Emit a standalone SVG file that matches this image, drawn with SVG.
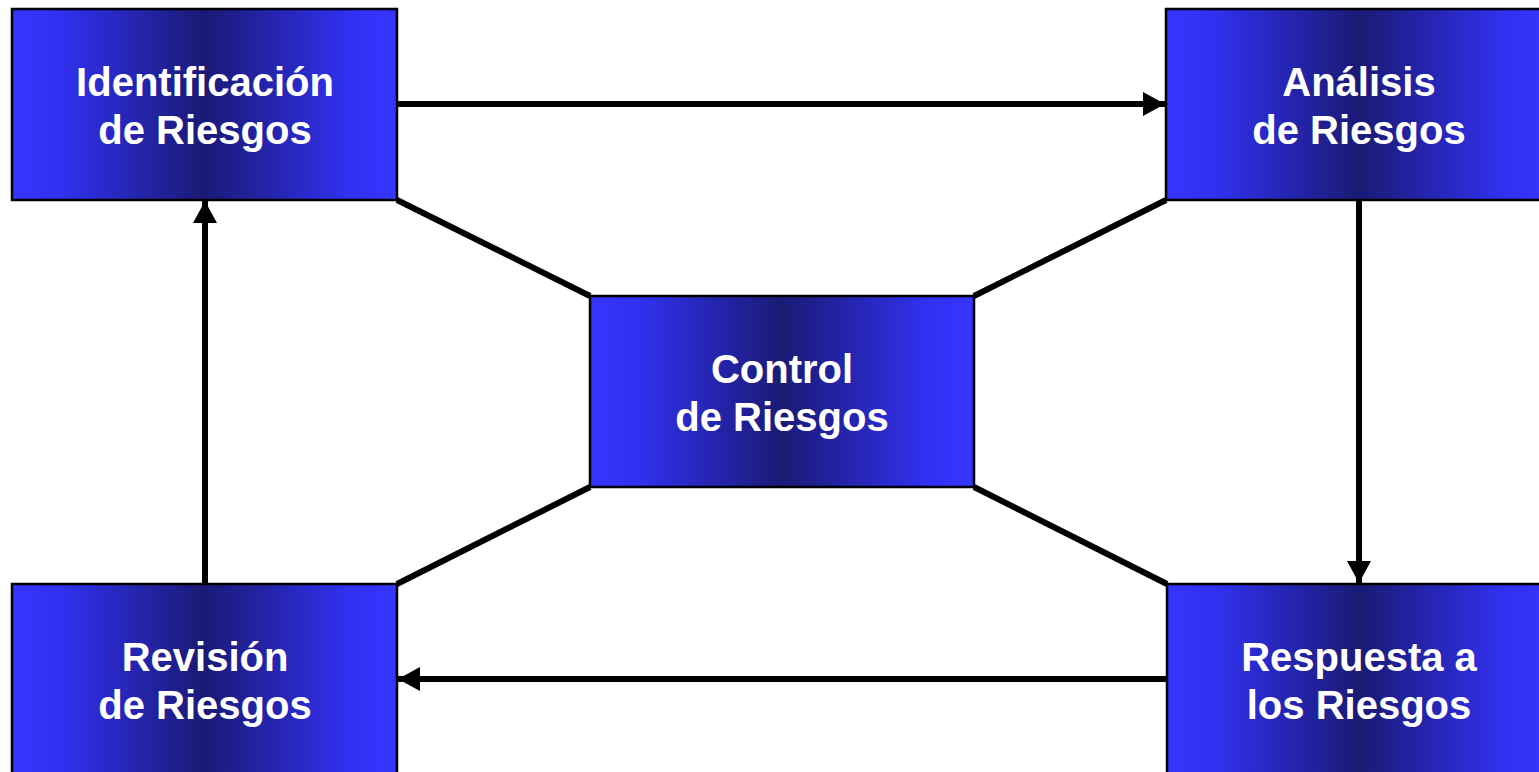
<svg xmlns="http://www.w3.org/2000/svg" width="1539" height="772" viewBox="0 0 1539 772">
<style>
.box{fill:url(#g);stroke:#000;stroke-width:2.5}
.lbl{font-family:"Liberation Sans",Arial,sans-serif;font-weight:bold;font-size:40px;fill:#fff;text-anchor:middle}
.ln{stroke:#000;stroke-width:6;fill:none}
</style>
<defs>
<linearGradient id="g" x1="0" y1="0" x2="1" y2="0">
<stop offset="0" stop-color="#3535ff"/>
<stop offset="0.12" stop-color="#3131f2"/>
<stop offset="0.5" stop-color="#1a1a75"/>
<stop offset="0.88" stop-color="#3131f2"/>
<stop offset="1" stop-color="#3535ff"/>
</linearGradient>
<marker id="ah" markerUnits="userSpaceOnUse" markerWidth="24" markerHeight="24" refX="22" refY="12" orient="auto">
<path d="M0,0 L22,12 L0,24 Z" fill="#000"/>
</marker>
</defs>
<rect width="1539" height="772" fill="#fff"/>
<g id="connectors">
<line class="ln" x1="397" y1="104" x2="1165" y2="104" marker-end="url(#ah)"/>
<line class="ln" x1="1359" y1="200" x2="1359" y2="583" marker-end="url(#ah)"/>
<line class="ln" x1="1167" y1="679" x2="398" y2="679" marker-end="url(#ah)"/>
<line class="ln" x1="205" y1="584" x2="205" y2="201" marker-end="url(#ah)"/>
<line class="ln" x1="397" y1="200" x2="590" y2="296"/>
<line class="ln" x1="1166" y1="200" x2="974" y2="296"/>
<line class="ln" x1="590" y1="487" x2="397" y2="584"/>
<line class="ln" x1="974" y1="487" x2="1167" y2="584"/>
</g>
<g id="identificacion">
<rect class="box" x="12" y="9" width="385" height="191"/>
<text class="lbl" x="205" y="96">Identificación</text>
<text class="lbl" x="205" y="144">de Riesgos</text>
</g>
<g id="analisis">
<rect class="box" x="1166" y="9" width="386" height="191"/>
<text class="lbl" x="1359" y="96">Análisis</text>
<text class="lbl" x="1359" y="144">de Riesgos</text>
</g>
<g id="control">
<rect class="box" x="590" y="296" width="384" height="191"/>
<text class="lbl" x="782" y="383">Control</text>
<text class="lbl" x="782" y="431">de Riesgos</text>
</g>
<g id="revision">
<rect class="box" x="12" y="584" width="385" height="200"/>
<text class="lbl" x="205" y="671">Revisión</text>
<text class="lbl" x="205" y="719">de Riesgos</text>
</g>
<g id="respuesta">
<rect class="box" x="1167" y="584" width="385" height="200"/>
<text class="lbl" x="1359" y="671">Respuesta a</text>
<text class="lbl" x="1359" y="719">los Riesgos</text>
</g>
</svg>
